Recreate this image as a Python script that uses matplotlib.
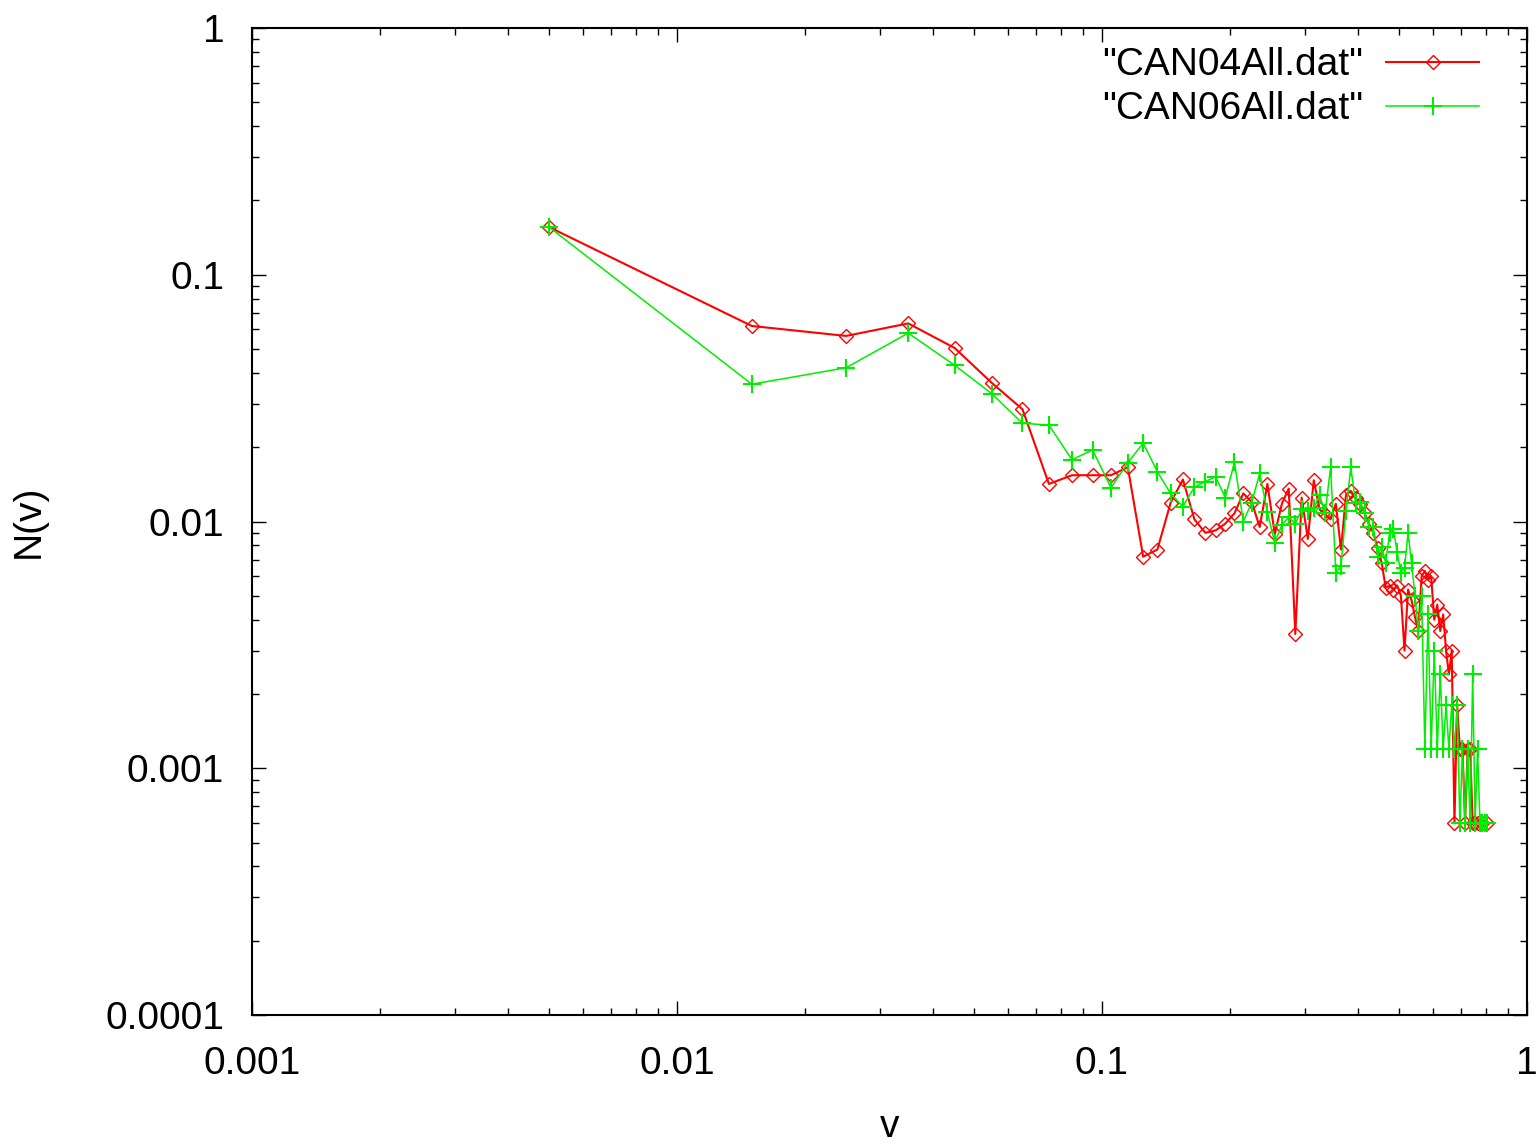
import numpy as np
import matplotlib.pyplot as plt
from matplotlib.ticker import LogLocator, FixedLocator, NullFormatter

# bin centres (velocity)
v_bins = [0.005, 0.015, 0.025, 0.035, 0.045, 0.055, 0.065, 0.075, 0.085, 0.095,
          0.105, 0.115, 0.125, 0.135, 0.145, 0.155, 0.165, 0.175, 0.185, 0.195,
          0.205, 0.215, 0.225, 0.235, 0.245, 0.255, 0.265, 0.275, 0.285, 0.295,
          0.305, 0.315, 0.325, 0.335, 0.345, 0.355, 0.365, 0.375, 0.385, 0.395,
          0.405, 0.415, 0.425, 0.435, 0.445, 0.455, 0.465, 0.475, 0.485, 0.495,
          0.505, 0.515, 0.525, 0.535, 0.545, 0.555, 0.565, 0.575, 0.585, 0.595,
          0.605, 0.615, 0.625, 0.635, 0.645, 0.655, 0.665, 0.675, 0.685, 0.695,
          0.705, 0.715, 0.725, 0.735, 0.745, 0.755, 0.765, 0.775, 0.785, 0.795,
          0.805]

# "CAN04All.dat"  (None = empty bin)
n_can04 = [0.156, 0.062, 0.0565, 0.0635, 0.0505, 0.0365, 0.0285, 0.0142, 0.0154, 0.0154,
           0.0154, 0.0166, 0.0072, 0.0077, 0.0119, 0.0148, 0.0102, 0.0090, 0.0092, 0.0098,
           0.0108, 0.0130, 0.0120, 0.0095, 0.0142, 0.0089, 0.0118, 0.0136, 0.0035, 0.0125,
           0.0085, 0.0147, 0.0112, 0.0107, 0.0102, 0.0118, 0.0077, 0.0128, 0.0133, 0.0124,
           0.0118, 0.0108, 0.0098, 0.0090, 0.0078, 0.0068, 0.0054, 0.0055, 0.0053, 0.0055,
           0.0050, 0.0030, 0.0053, 0.0048, 0.0041, 0.0036, 0.0060, 0.0063, 0.0058, 0.0060,
           0.0040, 0.0046, 0.0036, 0.0042, 0.0030, 0.0024, 0.0030, 0.0006, 0.0018, 0.0012,
           0.0012, 0.0006, 0.0012, 0.0012, 0.0006, 0.0006, 0.0006, None, 0.0006, None,
           0.0006]

# "CAN06All.dat"
n_can06 = [0.156, 0.036, 0.042, 0.058, 0.043, 0.033, 0.025, 0.0246, 0.0178, 0.0195,
           0.0137, 0.0173, 0.0208, 0.0159, 0.0130, 0.0115, 0.0138, 0.0145, 0.0152, 0.0125,
           0.0174, 0.0100, 0.0119, 0.0157, 0.0109, 0.0082, 0.0097, 0.0104, 0.0098, 0.0112,
           0.0110, 0.0113, 0.0128, 0.0108, 0.0166, 0.0062, 0.0066, 0.0110, 0.0166, 0.0119,
           0.0120, 0.0108, 0.0095, 0.0095, 0.0072, 0.0079, 0.0068, 0.0090, 0.0093, 0.0075,
           0.0062, 0.0065, 0.0090, 0.0068, 0.0050, 0.0036, 0.0050, 0.0012, 0.0042, 0.0012,
           0.0030, 0.0012, 0.0024, 0.0012, 0.0018, 0.0012, 0.0018, 0.0012, 0.0018, 0.0006,
           0.0012, 0.0006, 0.0012, 0.0006, 0.0024, 0.0006, 0.0012, 0.0006, 0.0006, 0.0006,
           0.0006]

x_ticks = [0.001, 0.01, 0.1, 1]
x_labels = ['0.001', '0.01', '0.1', '1']
y_ticks = [0.0001, 0.001, 0.01, 0.1, 1]
y_labels = ['0.0001', '0.001', '0.01', '0.1', '1']


def drop_empty(x, y):
    pts = [(a, b) for a, b in zip(x, y) if b is not None]
    return [p[0] for p in pts], [p[1] for p in pts]


plt.rcParams['font.family'] = ['Liberation Sans', 'DejaVu Sans']

fig = plt.figure(figsize=(15.4, 11.45), dpi=100)
ax = fig.add_axes([252 / 1540, 1 - 1015 / 1145, (1527 - 252) / 1540, (1015 - 28) / 1145])

x4, y4 = drop_empty(v_bins, n_can04)
x6, y6 = drop_empty(v_bins, n_can06)

ax.plot(x4, y4, color='#ff0000', linewidth=1.5, marker='D', markersize=7,
        markerfacecolor='none', markeredgecolor='#ff0000', markeredgewidth=1.0,
        label='"CAN04All.dat"')
ax.plot(x6, y6, color='#00ee00', linewidth=1.1, marker='+', markersize=13,
        markeredgewidth=1.5, label='"CAN06All.dat"')

ax.set_xscale('log')
ax.set_yscale('log')
ax.set_xlim(0.001, 1)
ax.set_ylim(0.0001, 1)

ax.xaxis.set_major_locator(FixedLocator(x_ticks))
ax.set_xticklabels(x_labels)
ax.yaxis.set_major_locator(FixedLocator(y_ticks))
ax.set_yticklabels(y_labels)
ax.xaxis.set_minor_locator(LogLocator(base=10, subs=np.arange(2, 10)))
ax.yaxis.set_minor_locator(LogLocator(base=10, subs=np.arange(2, 10)))
ax.xaxis.set_minor_formatter(NullFormatter())
ax.yaxis.set_minor_formatter(NullFormatter())

ax.tick_params(which='both', direction='in', top=True, right=True,
               labelsize=28, colors='black', width=1.0)
ax.tick_params(which='major', length=10)
ax.tick_params(which='minor', length=5)
ax.tick_params(axis='x', pad=22)
ax.tick_params(axis='y', pad=20)

for s in ax.spines.values():
    s.set_linewidth(1.5)
    s.set_color('black')

ax.set_xlabel('v', fontsize=28, labelpad=20)
ax.set_ylabel('N(v)', fontsize=28, labelpad=42)

leg = ax.legend(loc='upper right', bbox_to_anchor=(0.981, 1.004), frameon=False,
                markerfirst=False, fontsize=28, handlelength=2.4,
                handletextpad=0.6, labelspacing=0.2, borderaxespad=0.2)

fig.savefig('out.png', dpi=100)
